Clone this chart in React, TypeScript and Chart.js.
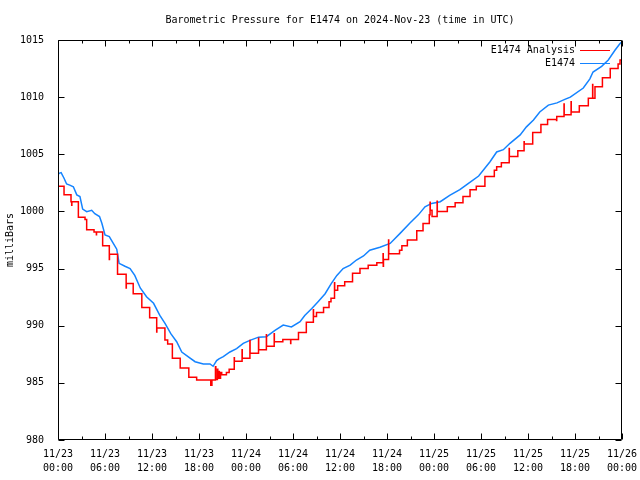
import React, { useEffect, useRef } from "react";
import { Chart, registerables } from "chart.js";

Chart.register(...registerables);

const titleText = "Barometric Pressure for E1474 on 2024-Nov-23 (time in UTC)";
const yAxisLabel = "milliBars";
const seriesNames = ["E1474 Analysis", "E1474"];
const seriesColors = ["#ff0000", "#1483ff"];

const xTickHours = [0, 6, 12, 18, 24, 30, 36, 42, 48, 54, 60, 66, 72];
const xTickDates = ["11/23", "11/23", "11/23", "11/23", "11/24", "11/24", "11/24", "11/24", "11/25", "11/25", "11/25", "11/25", "11/26"];
const xTickTimes = ["00:00", "06:00", "12:00", "18:00", "00:00", "06:00", "12:00", "18:00", "00:00", "06:00", "12:00", "18:00", "00:00"];
const yTicks = [980, 985, 990, 995, 1000, 1005, 1010, 1015];

// E1474 Analysis: hours since 11/23 00:00 UTC and pressure (stepped, with brief spikes)
const analysisHours = [
  0, 0.77, 1.66, 1.75, 1.77, 2.6, 3.45, 3.66, 4.6, 4.9, 4.92, 5.7, 6.55, 6.57, 7.6, 8.7, 8.72, 9.6, 10.7, 11.7,
  12.6, 12.62, 13.65, 14.0, 14.6, 15.6, 16.7, 17.7, 19.5, 19.65, 20.1, 20.15, 20.35, 20.4, 20.55, 20.6, 20.75,
  20.9, 21.5, 21.85, 22.5, 22.52, 23.5, 23.52, 24.5, 24.52, 25.6, 25.62, 26.6, 26.62, 27.6, 27.62, 28.7, 29.7,
  29.72, 30.7, 31.7, 32.6, 32.62, 33.0, 33.9, 34.6, 34.85, 35.3, 35.32, 35.7, 36.6, 37.6, 38.55, 39.6, 40.7,
  41.5, 41.52, 41.55, 42.2, 42.22, 43.6, 43.9, 44.6, 45.8, 46.6, 47.4, 47.5, 47.52, 47.75, 48.4, 48.42, 49.7,
  50.7, 51.7, 52.6, 53.4, 54.5, 55.7, 56.0, 56.6, 57.6, 57.62, 58.7, 59.5, 59.52, 60.6, 61.65, 62.5, 63.65,
  63.67, 64.6, 64.62, 65.5, 65.52, 66.55, 67.7, 68.25, 68.27, 68.55, 69.5, 70.5, 71.5, 71.75, 72,
];
const analysisValues = [
  1002.2, 1001.45, 1000.85, 1000.55, 1000.85, 999.5, 999.3, 998.4, 998.2, 997.95, 998.2, 997.0, 995.8, 996.25,
  994.5, 993.3, 993.7, 992.8, 991.6, 990.7, 989.45, 989.8, 988.75, 988.4, 987.15, 986.3, 985.5, 985.25, 984.8,
  985.25, 986.4, 985.3, 986.2, 985.4, 986.0, 985.4, 985.9, 985.7, 985.9, 986.2, 987.2, 986.9, 987.9, 987.15,
  988.7, 987.6, 988.9, 987.9, 989.2, 988.2, 989.3, 988.6, 988.8, 988.45, 988.8, 989.4, 990.3, 991.4, 990.8,
  991.15, 991.6, 992.1, 992.4, 993.75, 993.1, 993.5, 993.85, 994.6, 995.0, 995.3, 995.5, 996.3, 995.2, 995.8,
  997.5, 996.3, 996.6, 997.0, 997.5, 998.3, 998.95, 999.7, 1000.8, 1000.1, 999.55, 1000.9, 1000.0, 1000.4,
  1000.75, 1001.3, 1001.9, 1002.2, 1003.05, 1003.6, 1003.9, 1004.25, 1005.5, 1004.8, 1005.3, 1006.1, 1005.9,
  1006.9, 1007.6, 1008.05, 1007.95, 1008.3, 1009.4, 1008.45, 1009.6, 1008.7, 1009.25, 1009.9, 1011.1, 1009.9,
  1010.9, 1011.7, 1012.5, 1012.9, 1013.25, 1013.25,
];

// E1474 observations
const obsHours = [
  0, 0.13, 0.4, 0.77, 1.1, 1.5, 1.96, 2.4, 2.8, 3.15, 3.66, 4.3, 4.7, 5.3, 5.6, 6.0, 6.55, 7.06, 7.5, 7.8, 8.55,
  9.2, 9.8, 10.5, 11.3, 12.2, 13.0, 13.66, 14.4, 15.15, 15.8, 16.6, 17.5, 18.55, 19.4, 19.8, 20.25, 20.55, 21.1,
  21.95, 22.8, 23.65, 24.5, 25.6, 26.6, 27.7, 28.75, 29.8, 30.9, 31.5, 32.4, 33.2, 34.1, 34.9, 35.6, 36.4, 37.3,
  38.1, 39.0, 39.8, 41.1, 42.4, 43.7, 44.9, 46.0, 46.85, 47.7, 48.8, 50.0, 51.3, 52.4, 53.7, 55.15, 56.0, 56.85,
  57.7, 59.0, 59.8, 60.7, 61.5, 62.6, 63.7, 64.7, 65.4, 67.06, 67.9, 68.3, 69.4, 70.25, 71.1, 71.75, 72,
];
const obsValues = [
  1003.2, 1003.33, 1003.4, 1002.9, 1002.4, 1002.3, 1002.16, 1001.45, 1001.3, 1000.2, 999.98, 1000.1, 999.8,
  999.55, 998.96, 997.94, 997.8, 997.2, 996.7, 995.46, 995.2, 995.0, 994.4, 993.3, 992.54, 991.96, 990.9, 990.2,
  989.3, 988.6, 987.7, 987.3, 986.85, 986.65, 986.65, 986.45, 986.95, 987.1, 987.3, 987.7, 988.0, 988.46, 988.72,
  989.0, 989.04, 989.6, 990.06, 989.9, 990.35, 990.9, 991.5, 992.1, 992.8, 993.7, 994.4, 995.0, 995.3, 995.75,
  996.1, 996.6, 996.86, 997.2, 998.1, 998.96, 999.7, 1000.4, 1000.7, 1000.85, 1001.4, 1001.9, 1002.46, 1003.1,
  1004.35, 1005.2, 1005.4, 1005.96, 1006.7, 1007.4, 1008.0, 1008.7, 1009.3, 1009.5, 1009.8, 1010.0, 1010.8,
  1011.6, 1012.2, 1012.7, 1013.25, 1014.1, 1014.7, 1014.85,
];

const FONT = "DejaVu Sans Mono";

const gnuplotFrame = {
  id: "gnuplotFrame",
  afterDraw(chart: any) {
    const { ctx, chartArea: a } = chart;
    const xs = chart.scales.x;
    const ys = chart.scales.y;
    ctx.save();
    ctx.strokeStyle = "#000";
    ctx.lineWidth = 1;
    const L = Math.round(a.left) + 0.5;
    const R = Math.round(a.right) - 0.5;
    const T = Math.round(a.top) + 0.5;
    const B = Math.round(a.bottom) - 0.5;
    ctx.beginPath();
    ctx.rect(L, T, R - L, B - T);
    for (let i = 0; i < xTickHours.length; i++) {
      const h = xTickHours[i];
      const px = Math.round(xs.getPixelForValue(h)) + 0.5;
      ctx.moveTo(px, B);
      ctx.lineTo(px, B - 6);
      ctx.moveTo(px, T);
      ctx.lineTo(px, T + 6);
      if (i < xTickHours.length - 1) {
        const mh = (h + xTickHours[i + 1]) / 2;
        const mx = Math.round(xs.getPixelForValue(mh)) + 0.5;
        ctx.moveTo(mx, B);
        ctx.lineTo(mx, B - 3);
        ctx.moveTo(mx, T);
        ctx.lineTo(mx, T + 3);
      }
    }
    for (const v of yTicks) {
      const py = Math.round(ys.getPixelForValue(v)) + 0.5;
      ctx.moveTo(L, py);
      ctx.lineTo(L + 6, py);
      ctx.moveTo(R, py);
      ctx.lineTo(R - 6, py);
    }
    ctx.stroke();

    ctx.fillStyle = "#000";
    ctx.font = `10px "${FONT}"`;
    ctx.textAlign = "center";
    ctx.textBaseline = "middle";
    ctx.fillText(titleText, (a.left + a.right) / 2, 20);

    ctx.textAlign = "right";
    for (let i = 0; i < seriesNames.length; i++) {
      const yy = 50 + i * 13;
      ctx.fillStyle = "#000";
      ctx.fillText(seriesNames[i], a.right - 47, yy);
      ctx.strokeStyle = seriesColors[i];
      ctx.beginPath();
      ctx.moveTo(a.right - 42, Math.round(yy) + 0.5);
      ctx.lineTo(a.right - 12, Math.round(yy) + 0.5);
      ctx.stroke();
    }
    ctx.restore();
  },
};

export default function App() {
  const ref = useRef<HTMLCanvasElement | null>(null);

  useEffect(() => {
    if (!ref.current) return;
    const chart = new Chart(ref.current, {
      type: "line",
      data: {
        datasets: [
          {
            label: seriesNames[0],
            data: analysisHours.map((h, i) => ({ x: h, y: analysisValues[i] })),
            borderColor: seriesColors[0],
            borderWidth: 1.5,
            pointRadius: 0,
            stepped: "before",
            fill: false,
          },
          {
            label: seriesNames[1],
            data: obsHours.map((h, i) => ({ x: h, y: obsValues[i] })),
            borderColor: seriesColors[1],
            borderWidth: 1.5,
            pointRadius: 0,
            tension: 0,
            fill: false,
          },
        ],
      },
      options: {
        responsive: false,
        animation: false,
        devicePixelRatio: 1,
        layout: { padding: { top: 40, right: 18, left: 0, bottom: 0 } },
        plugins: {
          legend: { display: false },
          title: { display: false },
          tooltip: { enabled: false },
        },
        scales: {
          x: {
            type: "linear",
            min: 0,
            max: 72,
            grid: { display: false },
            border: { display: false },
            afterBuildTicks: (s: any) => {
              s.ticks = xTickHours.map((v) => ({ value: v }));
            },
            afterFit: (s: any) => {
              s.height = 40;
              s.paddingLeft = 0;
              s.paddingRight = 0;
            },
            ticks: {
              autoSkip: false,
              maxRotation: 0,
              padding: -1,
              color: "#000",
              font: { family: FONT, size: 10, lineHeight: 1.4 },
              callback: (v: any) => {
                const i = xTickHours.indexOf(Number(v));
                return i >= 0 ? [xTickDates[i], xTickTimes[i]] : "";
              },
            },
          },
          y: {
            type: "linear",
            min: 980,
            max: 1015,
            grid: { display: false },
            border: { display: false },
            afterBuildTicks: (s: any) => {
              s.ticks = yTicks.map((v) => ({ value: v }));
            },
            afterFit: (s: any) => {
              s.width = 58;
              s.paddingTop = 0;
              s.paddingBottom = 0;
            },
            title: {
              display: true,
              text: yAxisLabel,
              color: "#000",
              font: { family: FONT, size: 10 },
            },
            ticks: {
              padding: 6,
              color: "#000",
              font: { family: FONT, size: 10 },
              callback: (v: any) => String(v),
            },
          },
        },
      },
      plugins: [gnuplotFrame],
    });
    return () => chart.destroy();
  }, []);

  return (
    <div style={{ position: "fixed", left: 0, top: 0, width: 640, height: 480, background: "#fff" }}>
      <canvas ref={ref} width={640} height={480} style={{ display: "block" }} />
    </div>
  );
}
